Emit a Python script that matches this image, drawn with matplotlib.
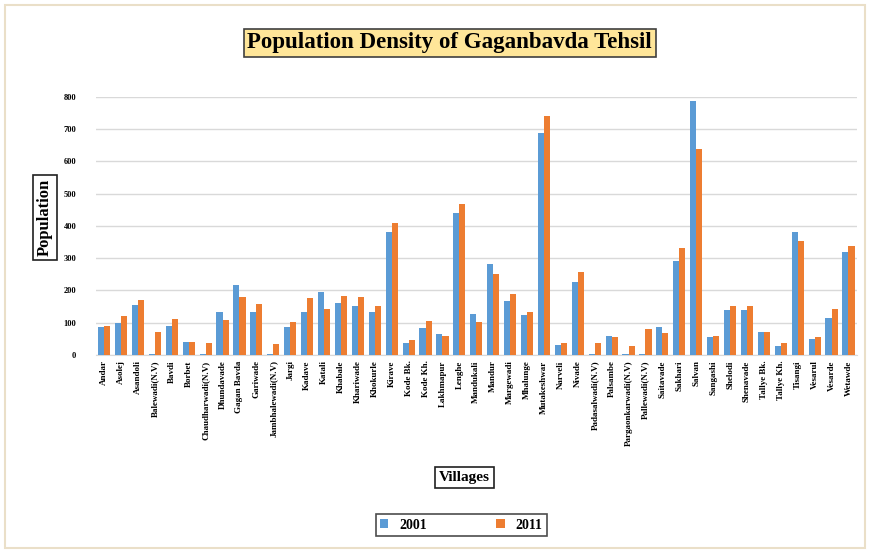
import numpy as np
import matplotlib.pyplot as plt
from matplotlib.patches import Rectangle

plt.rcParams['font.family'] = 'Liberation Serif'
plt.rcParams['font.weight'] = 'bold'

villages = ["Andar", "Asolej", "Asandoli", "Balewadi(N.V)", "Bavdi", "Borbet",
            "Chaudharwadi(N.V)", "Dhundavade", "Gagan Bavda", "Gariwade",
            "Jambhalewadi(N.V)", "Jargi", "Kadave", "Katali", "Khabale",
            "Khariwade", "Khokurle", "Kirave", "Kode Bk.", "Kode Kh.",
            "Lakhmapur", "Lenghe", "Mandukali", "Mandur", "Margewadi",
            "Mhalunge", "Mutakeshwar", "Narveli", "Nivade", "Padasalwadi(N.V)",
            "Palsambe", "Pargaonkarwadi(N.V)", "Pallewadi(N.V)", "Saitavade",
            "Sakhari", "Salvan", "Sangashi", "Shelodi", "Shenavade",
            "Tallye Bk.", "Tallye Kh.", "Tisangi", "Vesarul", "Vesarde", "Wetawde"]

density_2001 = [86, 98, 155, 3, 88, 41, 3, 134, 216, 134,
                2, 86, 132, 196, 162, 150, 132, 381, 38, 82,
                65, 440, 126, 283, 167, 124, 689, 29, 227, 3,
                57, 3, 3, 85, 291, 789, 55, 139, 139, 72,
                26, 381, 48, 113, 320]

density_2011 = [90, 119, 170, 72, 110, 41, 38, 108, 178, 158,
                33, 103, 175, 141, 182, 180, 152, 410, 46, 106,
                60, 467, 101, 250, 188, 132, 742, 38, 256, 36,
                55, 26, 79, 67, 330, 639, 57, 153, 150, 72,
                36, 354, 54, 141, 337]

fig = plt.figure(figsize=(8.7, 5.51), dpi=100)
ax = fig.add_axes([0.11, 0.356, 0.875, 0.468])

x = np.arange(len(villages))
w = 0.36
ax.bar(x - w / 2, density_2001, w, color="#5B9BD5", label="2001", zorder=3)
ax.bar(x + w / 2, density_2011, w, color="#ED7D31", label="2011", zorder=3)

ax.set_xlim(-0.5, len(villages) - 0.5)
ax.set_ylim(0, 800)
ax.set_yticks(np.arange(0, 801, 100))
ax.yaxis.grid(True, color="#d9d9d9", linewidth=1, zorder=0)
ax.tick_params(axis="y", length=0, labelsize=6, pad=14)
ax.set_xticks(x)
ax.set_xticklabels(villages, rotation=90, fontsize=6.5)
ax.tick_params(axis="x", length=0, pad=4)
for s in ax.spines.values():
    s.set_visible(False)
ax.spines["bottom"].set_visible(True)
ax.spines["bottom"].set_color("#d9d9d9")

fig.text(0.517, 0.922, "Population Density of Gaganbavda Tehsil", ha="center", va="center",
         fontsize=16.5, fontweight="bold",
         bbox=dict(boxstyle="square,pad=0.15", facecolor="#FFE699", edgecolor="#404040", linewidth=1.2))
fig.text(0.052, 0.605, "Population", rotation=90, ha="center", va="center", fontsize=12,
         bbox=dict(boxstyle="square,pad=0.25", facecolor="white", edgecolor="#202020", linewidth=1.2))
fig.text(0.534, 0.133, "Villages", ha="center", va="center", fontsize=11,
         bbox=dict(boxstyle="square,pad=0.25", facecolor="white", edgecolor="#202020", linewidth=1.2))

leg = fig.legend(loc="center", bbox_to_anchor=(0.53, 0.047), ncol=2, fontsize=10,
                 frameon=True, fancybox=False, edgecolor="#202020", handlelength=0.6,
                 handleheight=0.6, columnspacing=5.0, borderpad=0.3, borderaxespad=0)
leg.get_frame().set_linewidth(1.2)

fig.patches.append(Rectangle((0.006, 0.006), 0.988, 0.985, transform=fig.transFigure,
                             fill=False, edgecolor="#eadfc8", linewidth=1.5))

fig.savefig("out.png", dpi=100)
